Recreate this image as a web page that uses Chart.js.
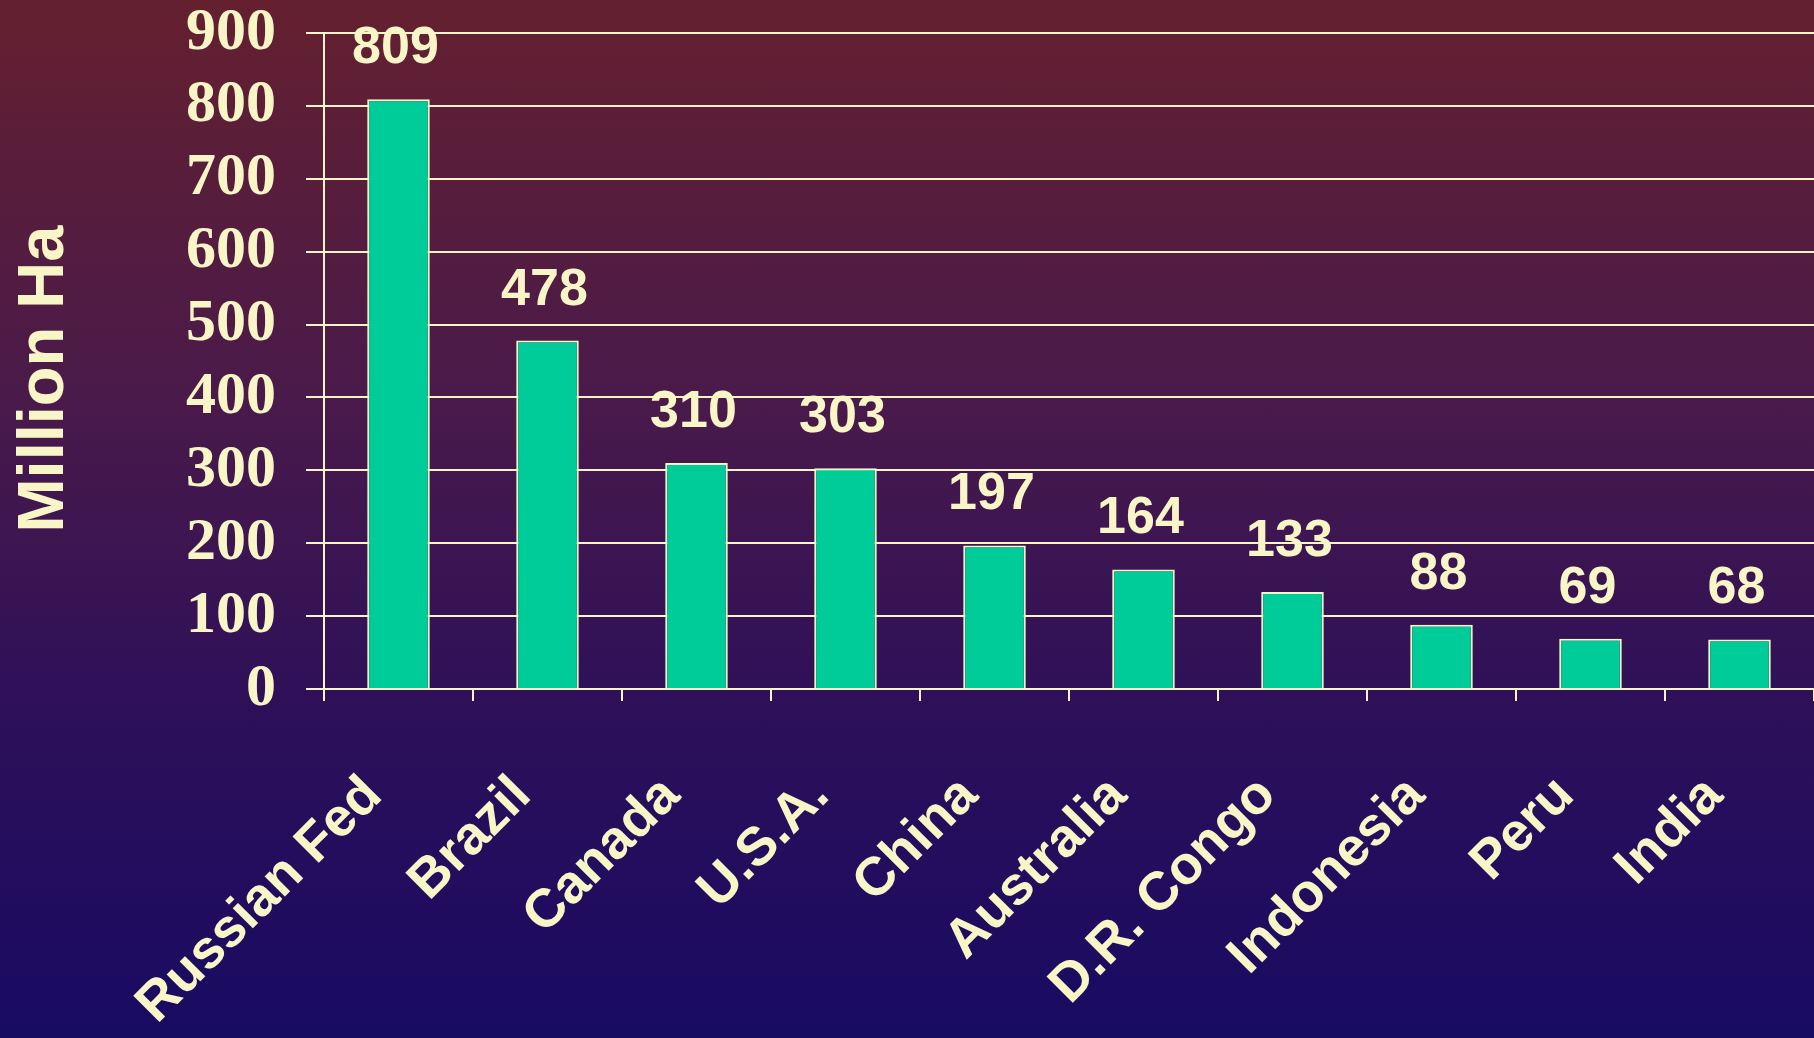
<!DOCTYPE html>
<html>
<head>
  <title>Forest area</title>
  <meta name="viewport" content="width=device-width, initial-scale=1">
  <script src="https://cdn.jsdelivr.net/npm/chart.js"></script>
  <style>
    body {
      margin: 0;
      padding: 0;
      background: linear-gradient(to bottom, #64202f 0%, #4a1a4a 38%, #2c0f5a 70%, #180b62 100%);
    }

    #chart-container {
      width: 1814px;
      height: 1038px;
    }
  </style>
</head>
<body>

  <div id="chart-container">
    <canvas id="myChart"></canvas>
  </div>

  <script>
    const countries = ['Russian Fed', 'Brazil', 'Canada', 'U.S.A.', 'China', 'Australia', 'D.R. Congo', 'Indonesia', 'Peru', 'India'];
    const forestArea = [809, 478, 310, 303, 197, 164, 133, 88, 69, 68];
    const yTicks = [0, 100, 200, 300, 400, 500, 600, 700, 800, 900];

    const cream = '#f8f6c6';

    // value above each bar
    const valueLabels = {
      id: 'valueLabels',
      afterDatasetsDraw(chart) {
        const c = chart.ctx;
        const meta = chart.getDatasetMeta(0);
        c.save();
        c.font = 'bold 52px "Liberation Sans", Arial, sans-serif';
        c.fillStyle = cream;
        c.textAlign = 'center';
        c.textBaseline = 'alphabetic';
        meta.data.forEach((bar, i) => {
          c.fillText(forestArea[i], bar.x - 3, bar.y - 36);
        });
        c.restore();
      }
    };

    const ctx = document.getElementById('myChart').getContext('2d');
    const chart = new Chart(ctx, {
      type: 'bar',
      data: {
        labels: countries,
        datasets: [{
          data: forestArea,
          backgroundColor: '#00cc99',
          borderColor: cream,
          borderWidth: 2,
          barPercentage: 0.42,
          categoryPercentage: 1
        }]
      },
      options: {
        responsive: true,
        maintainAspectRatio: false,
        animation: false,
        layout: { padding: { top: 33, right: 0, bottom: 0, left: 0 } },
        plugins: {
          legend: { display: false },
          tooltip: { enabled: false }
        },
        scales: {
          x: {
            afterFit: (s) => { s.height = 349; s.paddingLeft = 0; s.paddingRight = 0; },
            grid: { drawOnChartArea: false, drawTicks: true, tickLength: 12, color: cream, lineWidth: 2 },
            border: { display: true, color: cream, width: 2 },
            ticks: {
              color: cream,
              font: { family: '"Liberation Sans", Arial, sans-serif', size: 54, weight: 'bold' },
              minRotation: 45,
              maxRotation: 45,
              labelOffset: -25,
              padding: 63
            }
          },
          y: {
            min: 0,
            max: 900,
            afterFit: (s) => { s.width = 324; s.paddingTop = 0; s.paddingBottom = 0; },
            afterBuildTicks: (s) => { s.ticks = yTicks.map(v => ({ value: v })); },
            grid: { color: cream, lineWidth: 2, tickLength: 18 },
            border: { display: true, color: cream, width: 2 },
            ticks: {
              color: cream,
              padding: 30,
              font: { family: '"Liberation Serif", "Times New Roman", serif', size: 60, weight: 'bold', lineHeight: 1 }
            },
            title: {
              display: true,
              // trailing nbsp nudges the centred title a little lower
              text: 'Million Ha\u00a0\u00a0',
              color: cream,
              padding: { top: 9, bottom: 0 },
              font: { family: '"Liberation Sans", Arial, sans-serif', size: 65, weight: 'bold', lineHeight: 1.1 }
            }
          }
        }
      },
      plugins: [valueLabels]
    });
  </script>

</body>
</html>
